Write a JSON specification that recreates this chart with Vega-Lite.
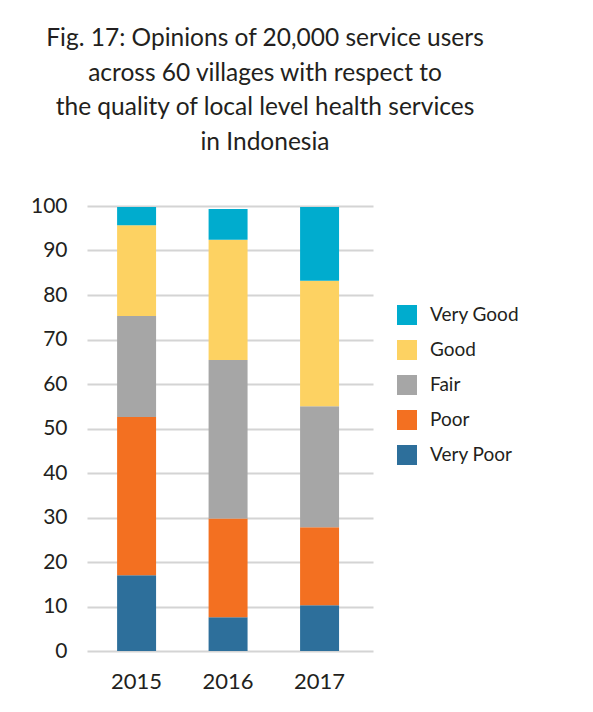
{
  "$schema": "https://vega.github.io/schema/vega-lite/v6.json",
  "width": 286,
  "height": 445,
  "autosize": {"type": "none"},
  "padding": {"left": 87, "top": 206, "right": 220, "bottom": 61},
  "background": "white",
  "title": {
    "text": ["Fig. 17:  Opinions of 20,000 service users", "across 60 villages with respect to", "the quality of local level health services", "in Indonesia"],
    "font": "Lato",
    "fontSize": 24.5,
    "fontWeight": "normal",
    "color": "#231f20",
    "lineHeight": 34.5,
    "anchor": "middle",
    "dx": 35,
    "offset": 40
  },
  "data": {
    "values": [
      {"year": "2015", "rating": "Very Poor", "rank": 1, "pct": 17.0},
      {"year": "2015", "rating": "Poor", "rank": 2, "pct": 35.6},
      {"year": "2015", "rating": "Fair", "rank": 3, "pct": 22.7},
      {"year": "2015", "rating": "Good", "rank": 4, "pct": 20.4},
      {"year": "2015", "rating": "Very Good", "rank": 5, "pct": 4.1},
      {"year": "2016", "rating": "Very Poor", "rank": 1, "pct": 7.6},
      {"year": "2016", "rating": "Poor", "rank": 2, "pct": 22.2},
      {"year": "2016", "rating": "Fair", "rank": 3, "pct": 35.6},
      {"year": "2016", "rating": "Good", "rank": 4, "pct": 27.0},
      {"year": "2016", "rating": "Very Good", "rank": 5, "pct": 6.9},
      {"year": "2017", "rating": "Very Poor", "rank": 1, "pct": 10.3},
      {"year": "2017", "rating": "Poor", "rank": 2, "pct": 17.5},
      {"year": "2017", "rating": "Fair", "rank": 3, "pct": 27.2},
      {"year": "2017", "rating": "Good", "rank": 4, "pct": 28.2},
      {"year": "2017", "rating": "Very Good", "rank": 5, "pct": 16.6}
    ]
  },
  "mark": {"type": "bar"},
  "encoding": {
    "x": {
      "field": "year",
      "type": "nominal",
      "scale": {"paddingInner": 0.574, "paddingOuter": 0.35, "align": 0.47},
      "axis": {
        "title": null,
        "labelAngle": 0,
        "domain": false,
        "ticks": false,
        "labelFont": "Lato",
        "labelFontSize": 22,
        "labelColor": "#231f20",
        "labelPadding": 20
      }
    },
    "y": {
      "field": "pct",
      "type": "quantitative",
      "stack": "zero",
      "scale": {"domain": [0, 100], "nice": false},
      "axis": {
        "title": null,
        "values": [0, 10, 20, 30, 40, 50, 60, 70, 80, 90, 100],
        "domain": false,
        "ticks": false,
        "grid": true,
        "gridColor": "#d4d4d4",
        "gridWidth": 2,
        "labelFont": "Lato",
        "labelFontSize": 21,
        "labelColor": "#231f20",
        "labelPadding": 20
      }
    },
    "color": {
      "field": "rating",
      "type": "nominal",
      "sort": ["Very Good", "Good", "Fair", "Poor", "Very Poor"],
      "scale": {
        "domain": ["Very Good", "Good", "Fair", "Poor", "Very Poor"],
        "range": ["#00acce", "#fdd262", "#a6a6a6", "#f37021", "#2d6f9b"]
      },
      "legend": {
        "title": null,
        "orient": "none",
        "legendX": 310,
        "legendY": 99,
        "symbolType": "square",
        "symbolSize": 400,
        "symbolStrokeWidth": 0,
        "labelFont": "Lato",
        "labelFontSize": 19,
        "labelColor": "#231f20",
        "labelOffset": 13,
        "rowPadding": 15
      }
    },
    "order": {"field": "rank", "type": "quantitative", "sort": "ascending"}
  },
  "config": {"view": {"stroke": null}}
}
